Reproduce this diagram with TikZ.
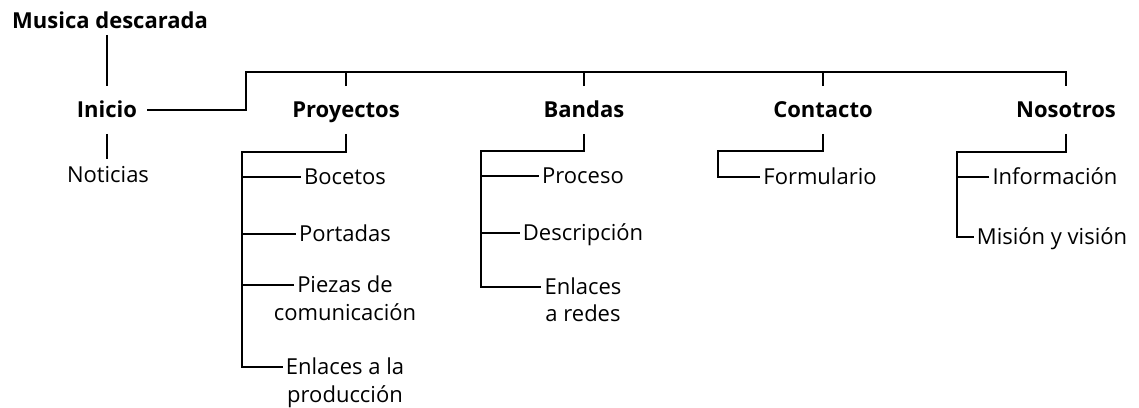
\documentclass[tikz,border=0pt]{standalone}
\usepackage{fontspec}
\setmainfont{Open Sans}

\tikzset{
  head/.style={font=\fontsize{22}{28}\selectfont\bfseries, text height=15.5pt, text depth=0pt, inner xsep=10pt, inner ysep=16pt},
  leaf/.style={font=\fontsize{22}{28}\selectfont, text height=15.5pt, text depth=0pt, inner xsep=3pt, inner ysep=8pt},
  link/.style={line width=2.3pt},
}

\begin{document}
\begin{tikzpicture}[x=1pt,y=-1pt]
	\useasboundingbox (0,0) rectangle (1139,407);

	% titulo y secciones
	\node[head, anchor=west, inner xsep=0pt, inner ysep=6pt] (mus) at (12,21) {Musica descarada};
	\node[head] (ini) at (107,110) {Inicio};
	\node[leaf] (noti) at (108,175) {Noticias};
	\node[head] (proy) at (346,110) {Proyectos};
	\node[head] (ban) at (584,110) {Bandas};
	\node[head] (con) at (823,110) {Contacto};
	\node[head] (nos) at (1066,110) {Nosotros};

	% Proyectos
	\node[leaf] (boc) at (345,177) {Bocetos};
	\node[leaf] (por) at (345,234) {Portadas};
	\node[leaf] (pie) at (345,285) {Piezas de};
	\node[leaf] (pie2) at (345,313) {comunicación};
	\node[leaf] (enl) at (345,367) {Enlaces a la};
	\node[leaf] (enl2) at (345,395) {producción};

	% Bandas
	\node[leaf] (proc) at (583,176) {Proceso};
	\node[leaf] (desc) at (583,233) {Descripción};
	\node[leaf] (red) at (583,287) {Enlaces};
	\node[leaf] (red2) at (583,314) {a redes};

	% Contacto y Nosotros
	\node[leaf] (form) at (820,177) {Formulario};
	\node[leaf] (inf) at (1055,177) {Información};
	\node[leaf] (mis) at (1052,237) {Misión y visión};

	\coordinate (bar) at (246,72);
	\coordinate (pspine) at (242,152);
	\coordinate (bspine) at (481,151);
	\coordinate (cspine) at (718,151);
	\coordinate (nspine) at (957,152);

	\draw[link] (ini.north |- mus.south) -- (ini.north);
	\draw[link] (ini.south) -- (ini.south |- noti.north);
	\draw[link] (ini.east) -| (bar) -| (nos.north);
	\foreach \n in {proy,ban,con}
		\draw[link] (\n.north) -- (\n.north |- bar);

	\draw[link] (proy.south) |- (pspine) |- (enl.west);
	\foreach \n in {boc,por,pie}
		\draw[link] (\n.west) -- (\n.west -| pspine);

	\draw[link] (ban.south) |- (bspine) |- (red.west);
	\foreach \n in {proc,desc}
		\draw[link] (\n.west) -- (\n.west -| bspine);

	\draw[link] (con.south) |- (cspine) |- (form.west);

	\draw[link] (nos.south) |- (nspine) |- (mis.west);
	\draw[link] (inf.west) -- (inf.west -| nspine);
\end{tikzpicture}
\end{document}
